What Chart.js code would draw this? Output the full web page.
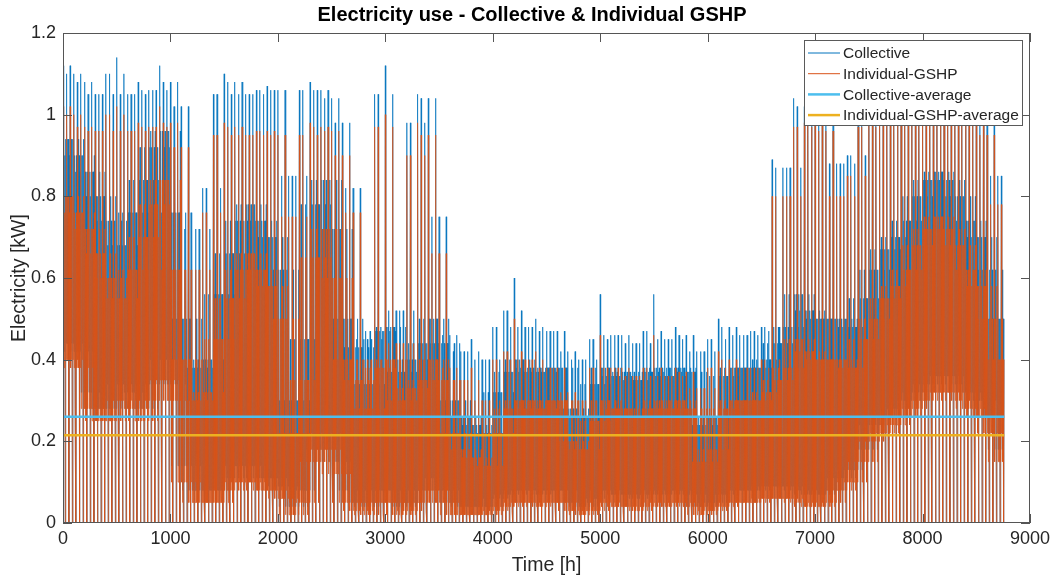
<!DOCTYPE html>
<html>
<head>
<meta charset="utf-8">
<title>Electricity use - Collective & Individual GSHP</title>
<script src="https://cdn.jsdelivr.net/npm/chart.js@4.4.1/dist/chart.umd.min.js"></script>
<style>
  html, body { margin: 0; padding: 0; background: #fff; }
  #wrap { width: 1059px; height: 575px; }
</style>
</head>
<body>
<div id="wrap"><canvas id="elecChart" width="1059" height="575"></canvas></div>
<script>
// hourly profile, summarised per 100 h block (block i covers hours i*100 .. i*100+100)
const blockHours = 100;
const yearHours = 8760;

// highest spikes in each block
const collPeak = [
  1.12, 1.10, 1.08, 1.05, 1.10, 1.14, 1.05, 1.08, 1.06, 1.12, 1.08,
  1.02, 0.72, 0.82, 1.05, 1.10, 1.08, 1.05, 1.06, 1.07, 1.06, 0.85, 1.06,
  1.08, 1.06, 1.04, 0.98, 0.82, 0.45, 1.05, 1.12, 0.52, 0.98, 1.05, 1.04, 0.75,
  0.46, 0.42, 0.45, 0.40, 0.48, 0.52, 0.60, 0.48, 0.50, 0.47, 0.47, 0.42,
  0.40, 0.45, 0.56, 0.46, 0.46, 0.44, 0.47, 0.56, 0.45, 0.48, 0.46, 0.42,
  0.45, 0.50, 0.48, 0.46, 0.47, 0.48, 0.89, 0.87, 1.04, 1.02, 1.03, 1.00,
  0.88, 0.90, 1.02, 1.04, 1.05, 1.05, 1.06, 1.06, 1.07, 1.06, 1.05, 1.06, 1.05, 1.04, 1.00, 0.85
];
const indPeak = [
  1.02, 1.00, 0.97, 0.96, 1.00, 1.02, 0.96, 0.98, 0.97, 1.02, 0.98,
  0.92, 0.62, 0.76, 0.95, 0.98, 0.97, 0.95, 0.96, 0.96, 0.95, 0.75, 0.95,
  0.98, 0.97, 0.96, 0.90, 0.76, 0.40, 0.97, 1.00, 0.44, 0.90, 0.98, 0.95, 0.66,
  0.38, 0.35, 0.38, 0.30, 0.40, 0.42, 0.50, 0.40, 0.42, 0.38, 0.38, 0.32,
  0.30, 0.38, 0.46, 0.38, 0.38, 0.36, 0.38, 0.46, 0.36, 0.38, 0.37, 0.33,
  0.38, 0.42, 0.40, 0.38, 0.38, 0.40, 0.80, 0.80, 0.97, 0.98, 0.98, 0.96,
  0.80, 0.85, 0.97, 0.98, 0.98, 0.98, 0.99, 1.00, 1.00, 1.00, 0.99, 1.00, 0.98, 0.98, 0.95, 0.78
];

// upper edge of the dense band where most hours sit
const collBody = [
  0.94, 0.90, 0.86, 0.80, 0.74, 0.68, 0.76, 0.84, 0.92, 0.96, 0.76,
  0.50, 0.38, 0.40, 0.56, 0.66, 0.74, 0.78, 0.74, 0.70, 0.62, 0.30, 0.45,
  0.78, 0.84, 0.72, 0.50, 0.43, 0.34, 0.47, 0.48, 0.37, 0.40, 0.44, 0.50, 0.44,
  0.30, 0.26, 0.24, 0.22, 0.32, 0.37, 0.40, 0.38, 0.37, 0.38, 0.38, 0.28,
  0.26, 0.34, 0.38, 0.36, 0.37, 0.35, 0.37, 0.38, 0.36, 0.38, 0.37, 0.24,
  0.26, 0.36, 0.38, 0.38, 0.38, 0.40, 0.44, 0.48, 0.56, 0.52, 0.50, 0.50,
  0.50, 0.48, 0.55, 0.62, 0.67, 0.70, 0.74, 0.80, 0.84, 0.86, 0.84, 0.80, 0.74, 0.70, 0.62, 0.50
];
const indBody = [
  0.80, 0.76, 0.72, 0.66, 0.60, 0.55, 0.62, 0.70, 0.78, 0.84, 0.62,
  0.40, 0.30, 0.32, 0.45, 0.55, 0.62, 0.66, 0.62, 0.58, 0.50, 0.22, 0.35,
  0.65, 0.72, 0.60, 0.40, 0.35, 0.28, 0.38, 0.40, 0.30, 0.33, 0.35, 0.40, 0.35,
  0.22, 0.18, 0.16, 0.14, 0.22, 0.28, 0.30, 0.30, 0.28, 0.30, 0.30, 0.20,
  0.18, 0.25, 0.30, 0.28, 0.28, 0.26, 0.28, 0.30, 0.28, 0.30, 0.28, 0.15,
  0.18, 0.28, 0.30, 0.30, 0.30, 0.32, 0.35, 0.38, 0.45, 0.42, 0.40, 0.40,
  0.40, 0.38, 0.45, 0.50, 0.55, 0.58, 0.62, 0.68, 0.72, 0.75, 0.72, 0.68, 0.62, 0.58, 0.50, 0.40
];

// lower edge of the dense band (below it only the overnight drops to zero)
const collBase = [
  0.44, 0.42, 0.32, 0.28, 0.28, 0.34, 0.32, 0.28, 0.34, 0.40, 0.34,
  0.14, 0.08, 0.08, 0.08, 0.11, 0.14, 0.14, 0.11, 0.11, 0.09, 0.04, 0.08,
  0.18, 0.22, 0.15, 0.08, 0.05, 0.04, 0.08, 0.08, 0.04, 0.05, 0.08, 0.11, 0.08,
  0.05, 0.04, 0.04, 0.04, 0.06, 0.07, 0.08, 0.08, 0.07, 0.08, 0.08, 0.05,
  0.04, 0.06, 0.08, 0.07, 0.07, 0.06, 0.07, 0.08, 0.07, 0.08, 0.07, 0.04,
  0.05, 0.07, 0.08, 0.08, 0.08, 0.09, 0.09, 0.09, 0.08, 0.07, 0.07, 0.08,
  0.11, 0.13, 0.18, 0.24, 0.26, 0.28, 0.30, 0.32, 0.34, 0.36, 0.36, 0.34, 0.32, 0.30, 0.26, 0.18
];
const indBase = [
  0.40, 0.38, 0.28, 0.25, 0.25, 0.30, 0.28, 0.25, 0.30, 0.35, 0.30,
  0.10, 0.05, 0.05, 0.05, 0.08, 0.10, 0.10, 0.08, 0.08, 0.06, 0.02, 0.05,
  0.15, 0.18, 0.12, 0.05, 0.03, 0.02, 0.05, 0.05, 0.02, 0.03, 0.05, 0.08, 0.05,
  0.02, 0.02, 0.02, 0.02, 0.03, 0.04, 0.05, 0.05, 0.04, 0.05, 0.05, 0.03,
  0.02, 0.03, 0.05, 0.04, 0.04, 0.03, 0.04, 0.05, 0.04, 0.05, 0.04, 0.02,
  0.03, 0.04, 0.05, 0.05, 0.05, 0.06, 0.06, 0.06, 0.05, 0.04, 0.04, 0.05,
  0.08, 0.10, 0.15, 0.20, 0.22, 0.24, 0.26, 0.28, 0.30, 0.32, 0.32, 0.30, 0.28, 0.26, 0.22, 0.15
];

// yearly means [kW]: collective, individual
const averages = [0.26, 0.215];

const seriesNames = ['Collective', 'Individual-GSHP', 'Collective-average', 'Individual-GSHP-average'];
const seriesColors = ['#0072BD', '#D95319', '#4DBEEE', '#EDB120'];
const xTicks = [0, 1000, 2000, 3000, 4000, 5000, 6000, 7000, 8000, 9000];
const yTicks = [0, 0.2, 0.4, 0.6, 0.8, 1, 1.2];

const FONT = '"Liberation Sans", Arial, Helvetica, sans-serif';
const TEXT = '#262626';

// Within a block the load swings three times ("days") between a top, the dense
// band and the night-time zero.  Band edges also borrow the neighbouring block's
// levels; tops borrow a neighbour's peak only when it is the lower one, so that
// isolated spikes and quiet spells stay where they are.
function expand(peak, body, base) {
  const n = peak.length;
  const pts = [];
  for (let i = 0; i < n; i++) {
    const p = Math.max(i - 1, 0), q = Math.min(i + 1, n - 1);
    const seq = [
      peak[i], base[i], body[i], base[q], body[q], 0, body[i], base[i],
      Math.min(peak[i], peak[q]), base[p], body[p], base[i], body[i], 0, body[q], base[i],
      Math.min(peak[i], peak[p]), base[q], body[i], base[p], body[i], 0, body[p], base[i]
    ];
    seq.forEach((v, k) => {
      const h = i * blockHours + k * blockHours / seq.length;
      if (h < yearHours) pts.push({ x: h, y: v });
    });
  }
  return pts;
}

function flat(v) {
  return [{ x: 0, y: v }, { x: yearHours, y: v }];
}

// box + inward ticks on all four sides, title and legend drawn over the data
const axesBox = {
  id: 'axesBox',
  afterDatasetsDraw(chart) {
    const { ctx, chartArea: a, scales: { x, y } } = chart;
    ctx.save();
    ctx.strokeStyle = '#555';
    ctx.lineWidth = 1;
    ctx.strokeRect(a.left + 0.5, a.top + 0.5, a.right - a.left - 1, a.bottom - a.top - 1);
    ctx.beginPath();
    xTicks.forEach(t => {
      const px = Math.round(x.getPixelForValue(t)) + 0.5;
      ctx.moveTo(px, a.bottom); ctx.lineTo(px, a.bottom - 9);
      ctx.moveTo(px, a.top); ctx.lineTo(px, a.top + 9);
    });
    yTicks.forEach(t => {
      const py = Math.round(y.getPixelForValue(t)) + 0.5;
      ctx.moveTo(a.left, py); ctx.lineTo(a.left + 9, py);
      ctx.moveTo(a.right, py); ctx.lineTo(a.right - 9, py);
    });
    ctx.stroke();
    ctx.restore();
  },
  afterDraw(chart) {
    const { ctx } = chart;
    ctx.save();
    // title
    ctx.fillStyle = '#000';
    ctx.font = 'bold 20px ' + FONT;
    ctx.textAlign = 'center';
    ctx.textBaseline = 'middle';
    ctx.fillText('Electricity use - Collective & Individual GSHP', 532, 15);

    // legend
    const lx = 804, ly = 40, lw = 218, lh = 85;
    ctx.fillStyle = '#fff';
    ctx.fillRect(lx, ly, lw, lh);
    ctx.strokeStyle = '#5a5a5a';
    ctx.lineWidth = 1;
    ctx.strokeRect(lx + 0.5, ly + 0.5, lw, lh);
    ctx.font = '15.5px ' + FONT;
    ctx.textAlign = 'left';
    chart.data.datasets.forEach((ds, i) => {
      const cy = ly + 13 + i * 20.7;
      ctx.strokeStyle = ds.borderColor;
      ctx.lineWidth = i < 2 ? 1 : 2.5;
      ctx.beginPath();
      ctx.moveTo(lx + 4, cy);
      ctx.lineTo(lx + 36, cy);
      ctx.stroke();
      ctx.fillStyle = TEXT;
      ctx.fillText(ds.label, lx + 39, cy + 1);
    });
    ctx.restore();
  }
};

const ctx = document.getElementById('elecChart').getContext('2d');
new Chart(ctx, {
  type: 'line',
  data: {
    datasets: [
      { label: seriesNames[0], data: expand(collPeak, collBody, collBase), borderColor: seriesColors[0], borderWidth: 0.7, order: 4 },
      { label: seriesNames[1], data: expand(indPeak, indBody, indBase), borderColor: seriesColors[1], borderWidth: 0.7, order: 3 },
      { label: seriesNames[2], data: flat(averages[0]), borderColor: seriesColors[2], borderWidth: 2.5, order: 2 },
      { label: seriesNames[3], data: flat(averages[1]), borderColor: seriesColors[3], borderWidth: 2.5, order: 1 }
    ]
  },
  options: {
    responsive: false,
    animation: false,
    parsing: false,
    normalized: true,
    elements: { point: { radius: 0 }, line: { tension: 0, fill: false } },
    layout: { padding: { top: 33, right: 29, left: 0, bottom: 0 } },
    plugins: { legend: { display: false }, title: { display: false }, tooltip: { enabled: false } },
    scales: {
      x: {
        type: 'linear', min: 0, max: 9000,
        grid: { display: false, drawTicks: false },
        border: { display: false },
        afterBuildTicks: s => { s.ticks = xTicks.map(v => ({ value: v })); },
        afterFit: s => { s.height = 52; },
        ticks: { color: TEXT, font: { family: FONT, size: 18 }, padding: 5, maxRotation: 0, autoSkip: false,
                 callback: v => String(v) },
        title: { display: true, text: 'Time [h]', color: TEXT, font: { family: FONT, size: 19.5, lineHeight: 1 }, padding: { top: 0, bottom: 0 } }
      },
      y: {
        type: 'linear', min: 0, max: 1.2,
        grid: { display: false, drawTicks: false },
        border: { display: false },
        afterBuildTicks: s => { s.ticks = yTicks.map(v => ({ value: v })); },
        afterFit: s => { s.width = 63; },
        ticks: { color: TEXT, font: { family: FONT, size: 18 }, padding: 7, callback: v => String(v) },
        title: { display: true, text: 'Electricity [kW]', color: TEXT, font: { family: FONT, size: 19.5, lineHeight: 1 }, padding: { top: 10, bottom: 0 } }
      }
    }
  },
  plugins: [axesBox]
});
</script>
</body>
</html>
